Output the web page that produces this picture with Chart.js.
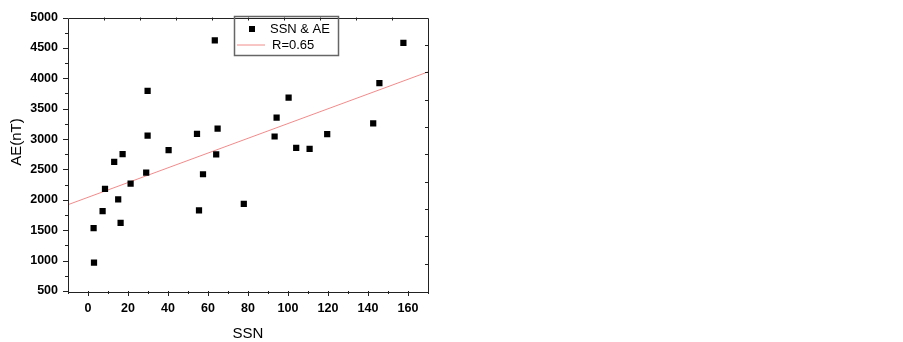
<!DOCTYPE html>
<html>
<head>
<meta charset="utf-8">
<script src="https://cdn.jsdelivr.net/npm/chart.js@4"></script>
<style>
  html, body {margin: 0; padding: 0; background: #fff;}
  canvas {display: block;}
</style>
</head>
<body>
<canvas id="chart" width="903" height="342"></canvas>
<script>
// SSN vs AE
const ssn = [3.0, 2.8, 7.3, 8.5, 13.1, 15.1, 16.3, 17.3, 21.3, 29.1, 29.8, 29.8, 40.3, 54.5, 55.5,
             57.5, 63.4, 64.1, 64.8, 77.9, 93.3, 94.3, 100.3, 104.1, 110.8, 119.6, 142.6, 145.7, 157.7];
const ae = [967, 1536, 1814, 2180, 2624, 2007, 1621, 2752, 2265, 2447, 3058, 3793, 2817, 3085, 1825,
            2421, 4625, 2748, 3171, 1932, 3042, 3354, 3681, 2855, 2839, 3080, 3257, 3922, 4582];

// linear fit line
const fitX = [-10, 170];
const fitY = [1920, 4105];

const seriesLabels = ['SSN & AE', 'R=0.65'];
const yTitle = 'AE(nT)';
const fitColor = '#f28b8b';
const axisColor = '#222';
const fontFamily = '"Liberation Sans", Arial, sans-serif';

let points = [];
for (const i in ssn) {
    points.push({x: ssn[i], y: ae[i]});
}
let fitPoints = [];
for (const i in fitX) {
    fitPoints.push({x: fitX[i], y: fitY[i]});
}

// tick marks (outside on left/bottom, inside on top/right), frame, y title and legend box
const frameAndTicks = {
    id: 'frameAndTicks',
    afterDraw(chart) {
        const ctx = chart.ctx;
        const a = chart.chartArea;
        const xs = chart.scales.x;
        const ys = chart.scales.y;
        ctx.save();
        ctx.strokeStyle = axisColor;
        ctx.lineWidth = 1;
        ctx.beginPath();
        for (const t of xs.ticks) {
            const px = Math.round(xs.getPixelForValue(t.value)) + 0.5;
            const len = t.value % 20 === 0 ? 5 : 3;
            ctx.moveTo(px, a.bottom);
            ctx.lineTo(px, a.bottom + len);
        }
        for (const t of ys.ticks) {
            const py = Math.round(ys.getPixelForValue(t.value)) + 0.5;
            const len = t.value % 500 === 0 ? 5 : 3;
            ctx.moveTo(a.left, py);
            ctx.lineTo(a.left - len, py);
        }
        // mirror axes: ten plain divisions
        for (let i = 1; i < 10; i++) {
            const px = Math.round(a.left + (a.right - a.left) * i / 10) + 0.5;
            ctx.moveTo(px, a.top);
            ctx.lineTo(px, a.top + 3);
            const py = Math.round(a.bottom - (a.bottom - a.top) * i / 10) + 0.5;
            ctx.moveTo(a.right, py);
            ctx.lineTo(a.right - 3, py);
        }
        ctx.stroke();
        ctx.beginPath();
        ctx.rect(Math.round(a.left) + 0.5, Math.round(a.top) + 0.5,
                 Math.round(a.right - a.left), Math.round(a.bottom - a.top));
        ctx.stroke();

        // y axis title, sits a bit above the middle in the original
        ctx.fillStyle = '#000';
        ctx.font = '15px ' + fontFamily;
        ctx.textAlign = 'center';
        ctx.textBaseline = 'middle';
        ctx.translate(17, 142);
        ctx.rotate(-Math.PI / 2);
        ctx.fillText(yTitle, 0, 0);
        ctx.setTransform(1, 0, 0, 1, 0, 0);

        // legend
        const lx = 234.5, ly = 16.5, lw = 104, lh = 39;
        ctx.strokeStyle = '#666';
        ctx.lineWidth = 1.5;
        ctx.strokeRect(lx, ly, lw, lh);
        ctx.fillStyle = '#000';
        ctx.fillRect(249, 26, 6, 6);
        ctx.strokeStyle = fitColor;
        ctx.lineWidth = 1;
        ctx.beginPath();
        ctx.moveTo(237, 45);
        ctx.lineTo(265, 45);
        ctx.stroke();
        ctx.fillStyle = '#000';
        ctx.font = '13px ' + fontFamily;
        ctx.textBaseline = 'middle';
        ctx.textAlign = 'left';
        ctx.fillText(chart.data.datasets[0].label, 270, 29.5);
        ctx.fillText(chart.data.datasets[1].label, 272, 45.5);
        ctx.restore();
    }
};

const data = {
    datasets: [{
        type: 'scatter',
        label: seriesLabels[0],
        data: points,
        pointStyle: 'rect',
        pointRadius: 4.4,
        pointHoverRadius: 4.4,
        backgroundColor: '#000',
        borderWidth: 0,
        order: 1
    }, {
        type: 'line',
        label: seriesLabels[1],
        data: fitPoints,
        borderColor: fitColor,
        borderWidth: 1,
        pointRadius: 0,
        fill: false,
        order: 2
    }]
};

const config = {
    type: 'scatter',
    data: data,
    options: {
        responsive: false,
        animation: false,
        devicePixelRatio: 1,
        layout: {padding: {left: 0, top: 11, right: 475, bottom: 0}},
        plugins: {
            legend: {display: false},
            tooltip: {enabled: false}
        },
        scales: {
            x: {
                type: 'linear',
                min: -10,
                max: 170,
                afterFit: (s) => { s.height = 51; },
                grid: {display: false, drawTicks: false},
                border: {display: false},
                ticks: {
                    stepSize: 10,
                    autoSkip: false,
                    maxRotation: 0,
                    padding: 10,
                    color: '#000',
                    font: {family: fontFamily, size: 12.5, weight: 'bold'},
                    callback: (v) => (v % 20 === 0 && v >= 0 ? v : '')
                },
                title: {
                    display: true,
                    text: 'SSN',
                    color: '#000',
                    padding: {top: 0, bottom: -1},
                    font: {family: fontFamily, size: 15}
                }
            },
            y: {
                type: 'linear',
                min: 500,
                max: 5000,
                afterFit: (s) => { s.width = 68; },
                grid: {display: false, drawTicks: false},
                border: {display: false},
                ticks: {
                    stepSize: 250,
                    autoSkip: false,
                    padding: 10,
                    color: '#000',
                    font: {family: fontFamily, size: 12.5, weight: 'bold'},
                    callback: (v) => (v % 500 === 0 ? v : '')
                },
                title: {display: false}
            }
        }
    },
    plugins: [frameAndTicks]
};

const chart = new Chart(document.getElementById('chart'), config);
</script>
</body>
</html>
